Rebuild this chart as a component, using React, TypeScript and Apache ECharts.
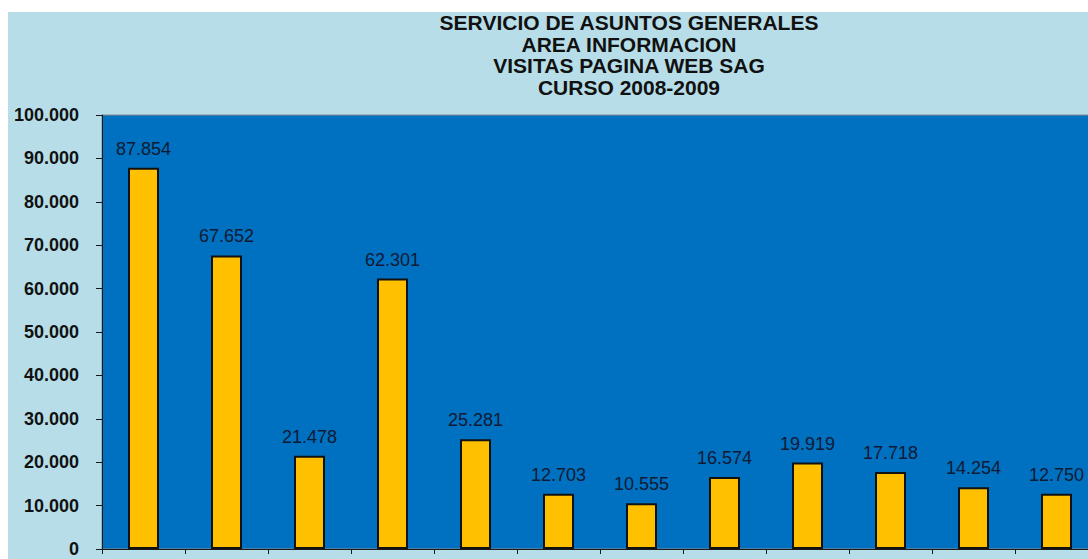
import React, { useEffect, useRef } from "react";
import * as echarts from "echarts";

const titleLines = [
  "SERVICIO DE ASUNTOS GENERALES",
  "AREA INFORMACION",
  "VISITAS PAGINA WEB SAG",
  "CURSO 2008-2009",
];
const months = [
  "SEPTIEMBRE", "OCTUBRE", "NOVIEMBRE", "DICIEMBRE", "ENERO", "FEBRERO",
  "MARZO", "ABRIL", "MAYO", "JUNIO", "JULIO", "AGOSTO",
];
const visits = [87854, 67652, 21478, 62301, 25281, 12703, 10555, 16574, 19919, 17718, 14254, 12750];
const yMin = 0;
const yMax = 100000;
const yStep = 10000;

const fmt = (n: number) => String(n).replace(/\B(?=(\d{3})+(?!\d))/g, ".");
const FONT = "'Liberation Sans', Arial, sans-serif";

export default function App() {
  const ref = useRef<HTMLDivElement>(null);
  useEffect(() => {
    if (!ref.current) return;
    const chart = echarts.init(ref.current, null, { renderer: "svg" });
    chart.setOption({
      animation: false,
      backgroundColor: "#b7dee8",
      title: {
        text: titleLines.join("\n"),
        left: 621,
        top: 0,
        padding: 0,
        textAlign: "center",
        textStyle: {
          fontFamily: FONT,
          fontSize: 21,
          fontWeight: "bold",
          color: "#111",
          lineHeight: 21.5,
        },
      },
      grid: {
        left: 94,
        top: 103,
        width: 996,
        height: 434,
        show: true,
        backgroundColor: "#0070c0",
        borderColor: "#8a8a8a",
        borderWidth: 1,
      },
      xAxis: {
        type: "category",
        data: months,
        axisLine: { lineStyle: { color: "#1a1a1a", width: 1 } },
        axisTick: { show: true, interval: 0, length: 5, lineStyle: { color: "#1a1a1a" } },
        axisLabel: { show: false, interval: 0 },
        splitLine: { show: false },
      },
      yAxis: {
        type: "value",
        min: yMin,
        max: yMax,
        interval: yStep,
        axisLine: { show: true, lineStyle: { color: "#1a1a1a", width: 1 } },
        axisTick: { show: true, length: 6, lineStyle: { color: "#1a1a1a" } },
        splitLine: { show: false },
        axisLabel: {
          margin: 23,
          fontFamily: FONT,
          fontSize: 18,
          fontWeight: "bold",
          color: "#111",
          formatter: (v: number) => fmt(v),
        },
      },
      series: [
        {
          type: "bar",
          data: visits,
          barWidth: 31,
          itemStyle: { color: "#ffc000", borderColor: "#111", borderWidth: 2 },
          label: {
            show: true,
            position: "top",
            distance: 10,
            fontFamily: FONT,
            fontSize: 18,
            color: "#111a33",
            formatter: (p: any) => fmt(p.value),
          },
        },
      ],
    });
    return () => chart.dispose();
  }, []);
  return (
    <div style={{ position: "fixed", inset: 0, overflow: "hidden", background: "#fff" }}>
      <div
        ref={ref}
        style={{ position: "absolute", left: 8, top: 12, width: 1120, height: 600 }}
      />
    </div>
  );
}
